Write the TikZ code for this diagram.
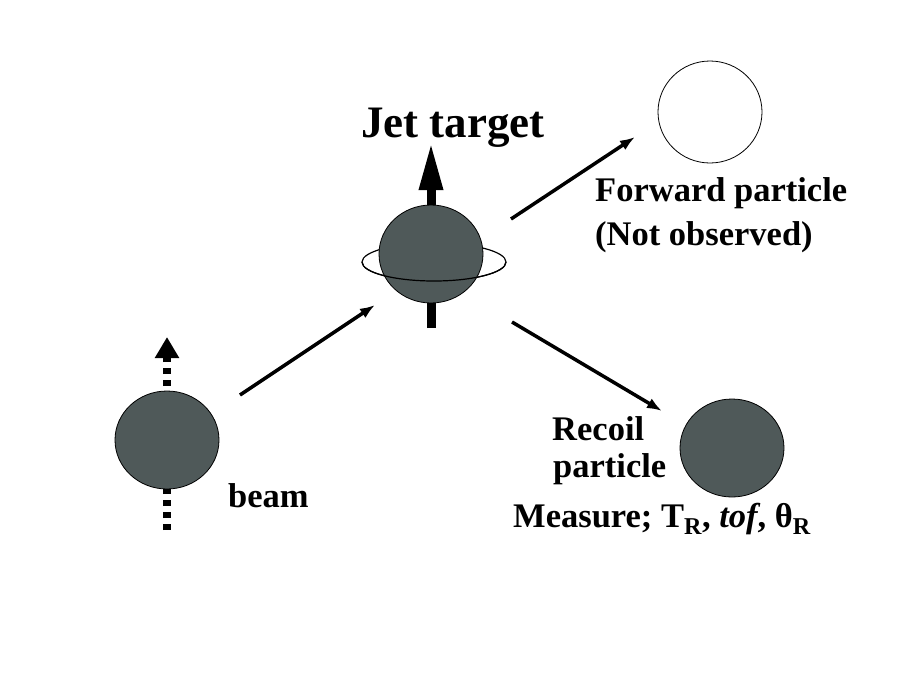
\documentclass[tikz,border=0pt]{standalone}
\usepackage{fontspec}
\setmainfont{Liberation Serif}
\usepackage{tikz}
\usetikzlibrary{arrows.meta,positioning,shapes,calc,backgrounds}
\definecolor{spheregray}{RGB}{79,89,89}
\tikzset{
  ball/.style={ellipse, draw=black, line width=0.8pt, fill=spheregray, minimum width=104pt, minimum height=98pt, inner sep=0pt},
  hollowball/.style={ball, fill=white},
  lbl/.style={font=\bfseries\fontsize{34.5}{38}\selectfont, inner sep=0pt},
  track/.style={line width=3.5pt, -{Latex[length=15pt,width=11pt]}},
}
\begin{document}
\begin{tikzpicture}[x=1pt,y=-1pt]
        \useasboundingbox (0,0) rectangle (900,673);
        \node[ball] (beam) at (167,440) {};
        \node[ball] (jet) at (431,254) {};
        \node[hollowball, minimum height=102pt] (fwd) at (710,112) {};
        \node[ball] (recoil) at (732,448) {};
        \begin{scope}[on background layer]
            \draw[line width=8pt, dash pattern=on 6pt off 6pt, -{Triangle[length=21pt,width=23pt]}] ($(beam)+(0,90)$) -- ($(beam)+(0,-103)$);
            \draw[line width=9pt, -{Triangle[length=48pt,width=22pt]}] ($(jet)+(0,74)$) -- ($(jet)+(0,-112)$);
            \draw[line width=1.2pt] ($(jet)+(3,8)$) ellipse [x radius=72pt, y radius=19pt];
        \end{scope}
        \draw[line width=1.2pt] ($(jet)+(-69,8)$) arc[start angle=180, end angle=360, x radius=72pt, y radius=19pt];
        \draw[track] ([shift={(73,-45)}]beam.center) -- ([shift={(-56,51)}]jet.center);
        \draw[track] ([shift={(80,-35)}]jet.center) -- ([shift={(-75,25)}]fwd.center);
        \draw[track] ([shift={(81,68)}]jet.center) -- ([shift={(-70,-37)}]recoil.center);
        \node[lbl, font=\bfseries\fontsize{45}{50}\selectfont, anchor=base] (jetlbl) at (453,137) {Jet target};
        \node[lbl, anchor=base west] (fwdlbl) at (595,201) {Forward particle};
        \node[lbl, anchor=base west] (fwdnote) at (595,245) {(Not observed)};
        \node[lbl, anchor=base west] (reclbl) at (552,440) {Recoil};
        \node[lbl, anchor=base west] (recpart) at (553,477) {particle};
        \node[lbl, anchor=base west] (measure) at (513,527) {Measure; T\textsubscript{R}, \textit{tof}, θ\textsubscript{R}};
        \node[lbl, anchor=base west] (beamlbl) at (228,507) {beam};
    \end{tikzpicture}
\end{document}
